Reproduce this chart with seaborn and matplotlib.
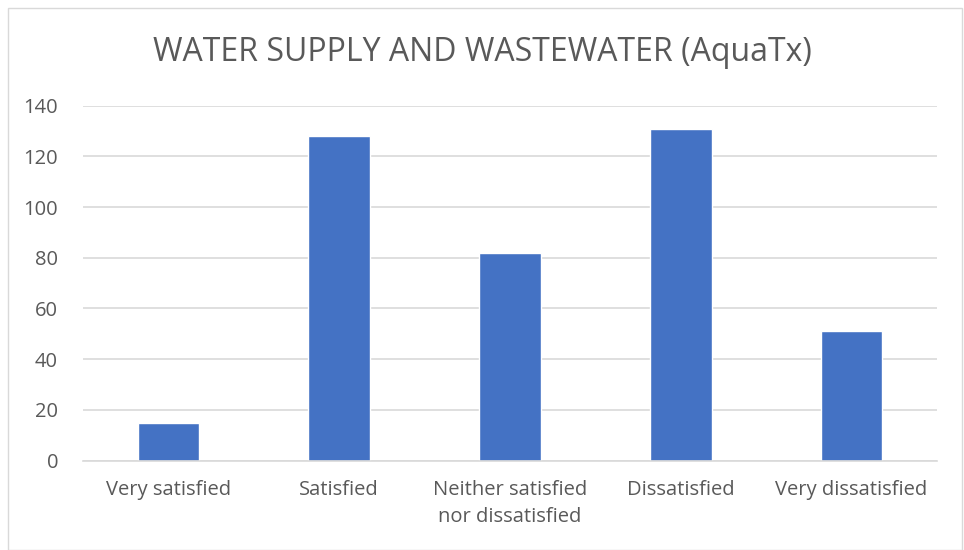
import matplotlib
matplotlib.use('Agg')
import matplotlib.pyplot as plt
import seaborn as sns
from matplotlib.patches import Rectangle

categories = ['Very satisfied', 'Satisfied', 'Neither satisfied\nnor dissatisfied',
              'Dissatisfied', 'Very dissatisfied']
counts = [15, 128, 82, 131, 51]
yticks = [0, 20, 40, 60, 80, 100, 120, 140]

sns.set_style('white')
plt.rcParams['font.family'] = ['Open Sans', 'DejaVu Sans']

fig = plt.figure(figsize=(9.64, 5.5), dpi=100)
ax = fig.add_axes([0.0861, 0.1627, 0.8859, 0.6451])

sns.barplot(x=categories, y=counts, color='#4472C4', width=0.36, saturation=1, ax=ax)

ax.set_ylim(0, 140)
ax.set_xlim(-0.5, 4.5)
ax.set_yticks(yticks)
ax.yaxis.grid(True, color='#D9D9D9', linewidth=1.2)
ax.set_axisbelow(True)
for s in ['top', 'right', 'left']:
    ax.spines[s].set_visible(False)
ax.spines['bottom'].set_color('#D9D9D9')
ax.spines['bottom'].set_linewidth(1.2)
ax.tick_params(axis='both', length=0, labelsize=14.5, labelcolor='#595959')
ax.tick_params(axis='y', pad=18)
ax.tick_params(axis='x', pad=14)
for lbl in ax.get_xticklabels():
    lbl.set_linespacing(1.45)
ax.set_xlabel('')
ax.set_ylabel('')

fig.text(0.5, 0.905, 'WATER SUPPLY AND WASTEWATER (AquaTx)', ha='center', va='center',
         fontsize=23, color='#595959')

fig.patches.append(Rectangle((0.008, 0.0), 0.99, 0.985, transform=fig.transFigure,
                             fill=False, edgecolor='#D9D9D9', linewidth=1))

fig.savefig('out.png', dpi=100)
